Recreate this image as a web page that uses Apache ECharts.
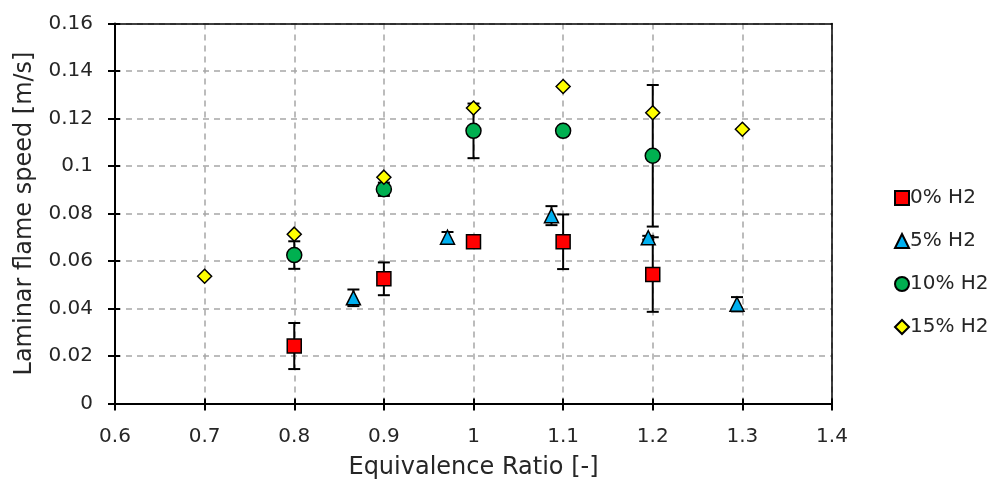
<!DOCTYPE html>
<html>
<head>
<meta charset="utf-8">
<script src="https://cdn.jsdelivr.net/npm/echarts@6/dist/echarts.min.js"></script>
<style>html,body{margin:0;padding:0;background:#fff}#c{width:992px;height:487px}</style>
</head>
<body>
<div id="c"></div>
<script>
const seriesNames = ['0% H2', '5% H2', '10% H2', '15% H2'];
const x0 = [0.8, 0.9, 1.0, 1.1, 1.2];
const y0 = [0.0242, 0.0525, 0.0681, 0.0681, 0.0543];
const e0 = [0.0097, 0.0069, 0, 0.0115, 0.0157];
const x5 = [0.866, 0.971, 1.087, 1.195, 1.294];
const y5 = [0.0445, 0.0700, 0.0791, 0.0698, 0.0418];
const e5 = [0.0035, 0.0022, 0.0040, 0.0008, 0.0030];
const x10 = [0.8, 0.9, 1.0, 1.1, 1.2];
const y10 = [0.0625, 0.0902, 0.1148, 0.1148, 0.1043];
const e10 = [0.0058, 0.0028, 0.0115, 0.0015, 0.0298];
const x15 = [0.7, 0.8, 0.9, 1.0, 1.1, 1.2, 1.3];
const y15 = [0.0536, 0.0713, 0.0953, 0.1244, 0.1335, 0.1224, 0.1155];
const e15 = [0, 0, 0, 0, 0, 0, 0];

const FONT = "'Century Gothic', 'DejaVu Sans', sans-serif";
const TXT = '#262626';

function pts(xs, ys) { return xs.map((x, i) => [x, ys[i]]); }
function errData(xs, ys, es) { return xs.map((x, i) => [x, ys[i] - es[i], ys[i] + es[i]]); }

function errSeries(xs, ys, es) {
  return {
    type: 'custom', silent: true, z: 2,
    data: errData(xs, ys, es),
    renderItem: function (params, api) {
      const x = api.value(0), lo = api.value(1), hi = api.value(2);
      if (hi - lo <= 0) return null;
      const pLo = api.coord([x, lo]), pHi = api.coord([x, hi]);
      const w = 6;
      const st = { stroke: '#000', lineWidth: 2 };
      return {
        type: 'group', children: [
          { type: 'line', shape: { x1: pLo[0], y1: pLo[1], x2: pHi[0], y2: pHi[1] }, style: st },
          { type: 'line', shape: { x1: pLo[0] - w, y1: pLo[1], x2: pLo[0] + w, y2: pLo[1] }, style: st },
          { type: 'line', shape: { x1: pHi[0] - w, y1: pHi[1], x2: pHi[0] + w, y2: pHi[1] }, style: st }
        ]
      };
    }
  };
}

const markerStyle = c => ({ color: c, borderColor: '#000', borderWidth: 1.5, opacity: 1 });

const xCommon = { type: 'value', min: 0.6, max: 1.4, interval: 0.1 };
const yCommon = { type: 'value', min: 0, max: 0.16, interval: 0.02 };
const frameLine = { show: true, onZero: false, lineStyle: { color: '#000', width: 1.5 } };

const option = {
  animation: false,
  backgroundColor: '#fff',
  grid: { left: 115, right: 160, top: 23.5, bottom: 83.5, show: false },
  legend: {
    data: seriesNames,
    orient: 'vertical', left: 889, top: 183, itemGap: 23,
    itemWidth: 14, itemHeight: 14,
    textStyle: { fontFamily: FONT, fontSize: 20, color: TXT, padding: [0, 0, 0, -4] }
  },
  xAxis: [
    Object.assign({}, xCommon, {
      name: 'Equivalence Ratio [-]', nameLocation: 'middle', nameGap: 52,
      nameTextStyle: { fontFamily: FONT, fontSize: 24, color: TXT },
      axisLine: { show: true, onZero: false, lineStyle: { color: '#000', width: 2 } },
      axisTick: { show: true, inside: false, length: 7, lineStyle: { color: '#000', width: 2 } },
      axisLabel: { fontFamily: FONT, fontSize: 20, color: TXT, margin: 23,
        formatter: v => String(Math.round(v * 10) / 10) },
      splitLine: { show: true, lineStyle: { color: '#A6A6A6', type: [6, 5], width: 1.5 } }
    }),
    Object.assign({}, xCommon, {
      position: 'bottom',
      axisLine: { show: false },
      axisTick: { show: true, inside: true, length: 5, lineStyle: { color: '#000', width: 2 } },
      axisLabel: { show: false }, splitLine: { show: false }
    }),
    Object.assign({}, xCommon, {
      position: 'top',
      axisLine: frameLine,
      axisTick: { show: false }, axisLabel: { show: false }, splitLine: { show: false }
    })
  ],
  yAxis: [
    Object.assign({}, yCommon, {
      name: 'Laminar flame speed [m/s]', nameLocation: 'middle', nameGap: 78,
      nameTextStyle: { fontFamily: FONT, fontSize: 24, color: TXT },
      axisLine: { show: true, onZero: false, lineStyle: { color: '#000', width: 2 } },
      axisTick: { show: true, inside: false, length: 7, lineStyle: { color: '#000', width: 2 } },
      axisLabel: { fontFamily: FONT, fontSize: 20, color: TXT, margin: 22,
        formatter: v => String(Math.round(v * 100) / 100) },
      splitLine: { show: true, lineStyle: { color: '#A6A6A6', type: [6, 5], width: 1.5 } }
    }),
    Object.assign({}, yCommon, {
      position: 'left',
      axisLine: { show: false },
      axisTick: { show: true, inside: true, length: 5, lineStyle: { color: '#000', width: 2 } },
      axisLabel: { show: false }, splitLine: { show: false }
    }),
    Object.assign({}, yCommon, {
      position: 'right',
      axisLine: frameLine,
      axisTick: { show: false }, axisLabel: { show: false }, splitLine: { show: false }
    })
  ],
  series: [
    errSeries(x0, y0, e0),
    { name: seriesNames[0], type: 'scatter', z: 2, symbol: 'rect', symbolSize: 14, itemStyle: markerStyle('#FF0000'), data: pts(x0, y0) },
    errSeries(x5, y5, e5),
    { name: seriesNames[1], type: 'scatter', z: 2, symbol: 'triangle', symbolSize: 14, itemStyle: markerStyle('#00B0F0'), data: pts(x5, y5) },
    errSeries(x10, y10, e10),
    { name: seriesNames[2], type: 'scatter', z: 2, symbol: 'circle', symbolSize: 15, itemStyle: markerStyle('#00B050'), data: pts(x10, y10) },
    errSeries(x15, y15, e15),
    { name: seriesNames[3], type: 'scatter', z: 2, symbol: 'diamond', symbolSize: 14, itemStyle: markerStyle('#FFFF00'), data: pts(x15, y15) }
  ]
};

const chart = echarts.init(document.getElementById('c'), null, { renderer: 'canvas' });
chart.setOption(option);
</script>
</body>
</html>
